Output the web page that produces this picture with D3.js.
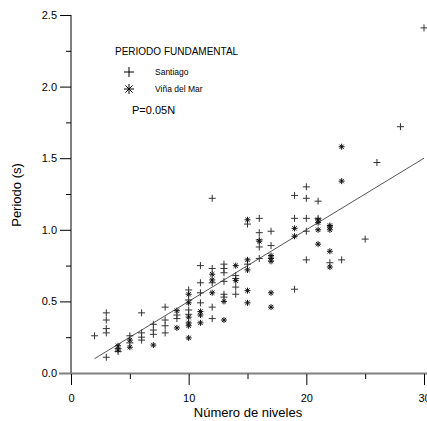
<!DOCTYPE html>
<html><head><meta charset="utf-8">
<script src="https://cdn.jsdelivr.net/npm/d3@7"></script>
<style>body{margin:0;background:#fff}svg{display:block;font-family:"Liberation Sans",Arial,sans-serif}</style>
</head><body>
<script>
const santiago = [[2,0.26],[3,0.42],[3,0.37],[3,0.31],[3,0.28],[3,0.11],
[4,0.17],[4,0.15],[5,0.26],[5,0.21],
[6,0.42],[6,0.28],[6,0.25],[6,0.23],
[7,0.34],[7,0.30],[7,0.27],
[8,0.46],[8,0.37],[8,0.33],[8,0.28],
[9,0.405],[9,0.38],
[10,0.58],[10,0.51],[10,0.44],[10,0.41],
[11,0.75],[11,0.63],[11,0.56],[11,0.49],
[12,1.22],[12,0.73],[12,0.63],[12,0.46],[12,0.38],
[13,0.76],[13,0.73],[13,0.70],[13,0.64],[13,0.55],[13,0.53],
[14,0.68],[14,0.66],[14,0.60],[14,0.55],
[15,1.04],[15,0.76],
[16,1.08],[16,0.98],[16,0.93],[16,0.88],[16,0.80],
[17,0.99],[17,0.89],
[19,1.24],[19,1.08],[19,0.585],
[20,1.30],[20,1.22],[20,1.08],[20,0.99],[20,0.79],
[21,1.20],[21,1.08],[22,0.77],[23,0.79],
[25,0.935],[26,1.47],[28,1.72],[30,2.41]];
const vina = [[4,0.19],[4,0.16],[5,0.23],[5,0.18],[7,0.195],
[9,0.435],[9,0.315],
[10,0.55],[10,0.49],[10,0.39],[10,0.35],[10,0.33],[10,0.245],
[11,0.43],[11,0.405],[11,0.35],
[12,0.69],[12,0.65],[12,0.56],
[13,0.50],[13,0.37],
[14,0.75],[14,0.645],
[15,1.07],[15,0.79],[15,0.72],[15,0.575],[15,0.49],
[16,0.92],
[17,0.82],[17,0.80],[17,0.78],[17,0.56],[17,0.46],
[19,1.01],[19,0.955],
[21,1.07],[21,1.05],[21,1.00],[21,0.90],
[22,1.03],[22,1.02],[22,1.00],[22,0.85],[22,0.74],
[23,1.58],[23,1.34]];
const fitLine = [[2,0.1],[30,1.5]];
const yMajor = [0.5,1.0,1.5,2.0,2.5];
const yMinor = [0.25,0.75,1.25,1.75,2.25];
const xMajor = [0,10,20,30];
const xMinor = [5,15,25];
const title = "PERIODO FUNDAMENTAL";
const seriesNames = ["Santiago","Viña del Mar"];
const formula = "P=0.05N";

const W=427,H=421;
const svg=d3.select("body").append("svg").attr("width",W).attr("height",H);
const x=d3.scaleLinear([0,30],[71,424]);
const y=d3.scaleLinear([0,2.5],[373,15]);

// y axis
const yAx=svg.append("g").attr("transform","translate(71,0)")
 .call(d3.axisLeft(y).tickValues(yMajor).tickSize(11).tickPadding(3).tickFormat(d3.format(".1f")));
yAx.select(".domain").attr("d","M0,15V373").attr("stroke","#000");
yAx.selectAll("text").attr("font-size",11).attr("fill","#000").attr("font-family","Liberation Sans, Arial, sans-serif");
const yMi=svg.append("g").attr("transform","translate(71,0)")
 .call(d3.axisLeft(y).tickValues(yMinor).tickSize(5).tickFormat(""));
yMi.select(".domain").remove();
svg.append("text").attr("x",57).attr("y",y(0)).attr("dy","0.32em").attr("text-anchor","end")
 .attr("font-size",11).text(d3.format(".1f")(0));

// x axis
svg.append("line").attr("x1",59).attr("x2",427).attr("y1",373.5).attr("y2",373.5)
 .attr("stroke","#808080").attr("stroke-width",2.2);
const xAx=svg.append("g").attr("transform","translate(0,374)")
 .call(d3.axisBottom(x).tickValues(xMajor).tickSize(11).tickPadding(9).tickFormat(d3.format("d")));
xAx.select(".domain").remove();
xAx.selectAll("text").attr("font-size",11).attr("fill","#000").attr("font-family","Liberation Sans, Arial, sans-serif");
const xMi=svg.append("g").attr("transform","translate(0,374)")
 .call(d3.axisBottom(x).tickValues(xMinor).tickSize(5).tickFormat(""));
xMi.select(".domain").remove();

svg.append("text").attr("x",248).attr("y",417).attr("text-anchor","middle").attr("font-size",13).text("Número de niveles");
svg.append("text").attr("transform","translate(21,195) rotate(-90)").attr("text-anchor","middle").attr("font-size",13).text("Periodo (s)");

svg.append("path").attr("d",d3.line().x(d=>x(d[0])).y(d=>y(d[1]))(fitLine))
 .attr("stroke","#555").attr("stroke-width",1).attr("fill","none");

const plusPath=s=>`M${-s},0H${s}M0,${-s}V${s}`;
const starPath=s=>{const a=s*0.72;return `M${-s},0H${s}M0,${-s}V${s}M${-a},${-a}L${a},${a}M${-a},${a}L${a},${-a}`;};

svg.append("g").selectAll("path").data(santiago).join("path")
 .attr("transform",d=>`translate(${x(d[0])},${y(d[1])})`).attr("d",plusPath(3.5))
 .attr("stroke","#333").attr("stroke-width",1).attr("fill","none");
svg.append("g").selectAll("path").data(vina).join("path")
 .attr("transform",d=>`translate(${x(d[0])},${y(d[1])})`).attr("d",starPath(3))
 .attr("stroke","#111").attr("stroke-width",1).attr("fill","none");

svg.append("text").attr("x",115).attr("y",55).attr("font-size",10).text(title);
svg.append("path").attr("transform","translate(129,72)").attr("d",plusPath(5)).attr("stroke","#000").attr("fill","none");
svg.append("path").attr("transform","translate(129,89)").attr("d",starPath(5)).attr("stroke","#000").attr("fill","none");
svg.append("text").attr("x",155).attr("y",75).attr("font-size",8.5).text(seriesNames[0]);
svg.append("text").attr("x",155).attr("y",92).attr("font-size",8.5).text(seriesNames[1]);
svg.append("text").attr("x",132).attr("y",114).attr("font-size",11).text(formula);
</script>
</body></html>
